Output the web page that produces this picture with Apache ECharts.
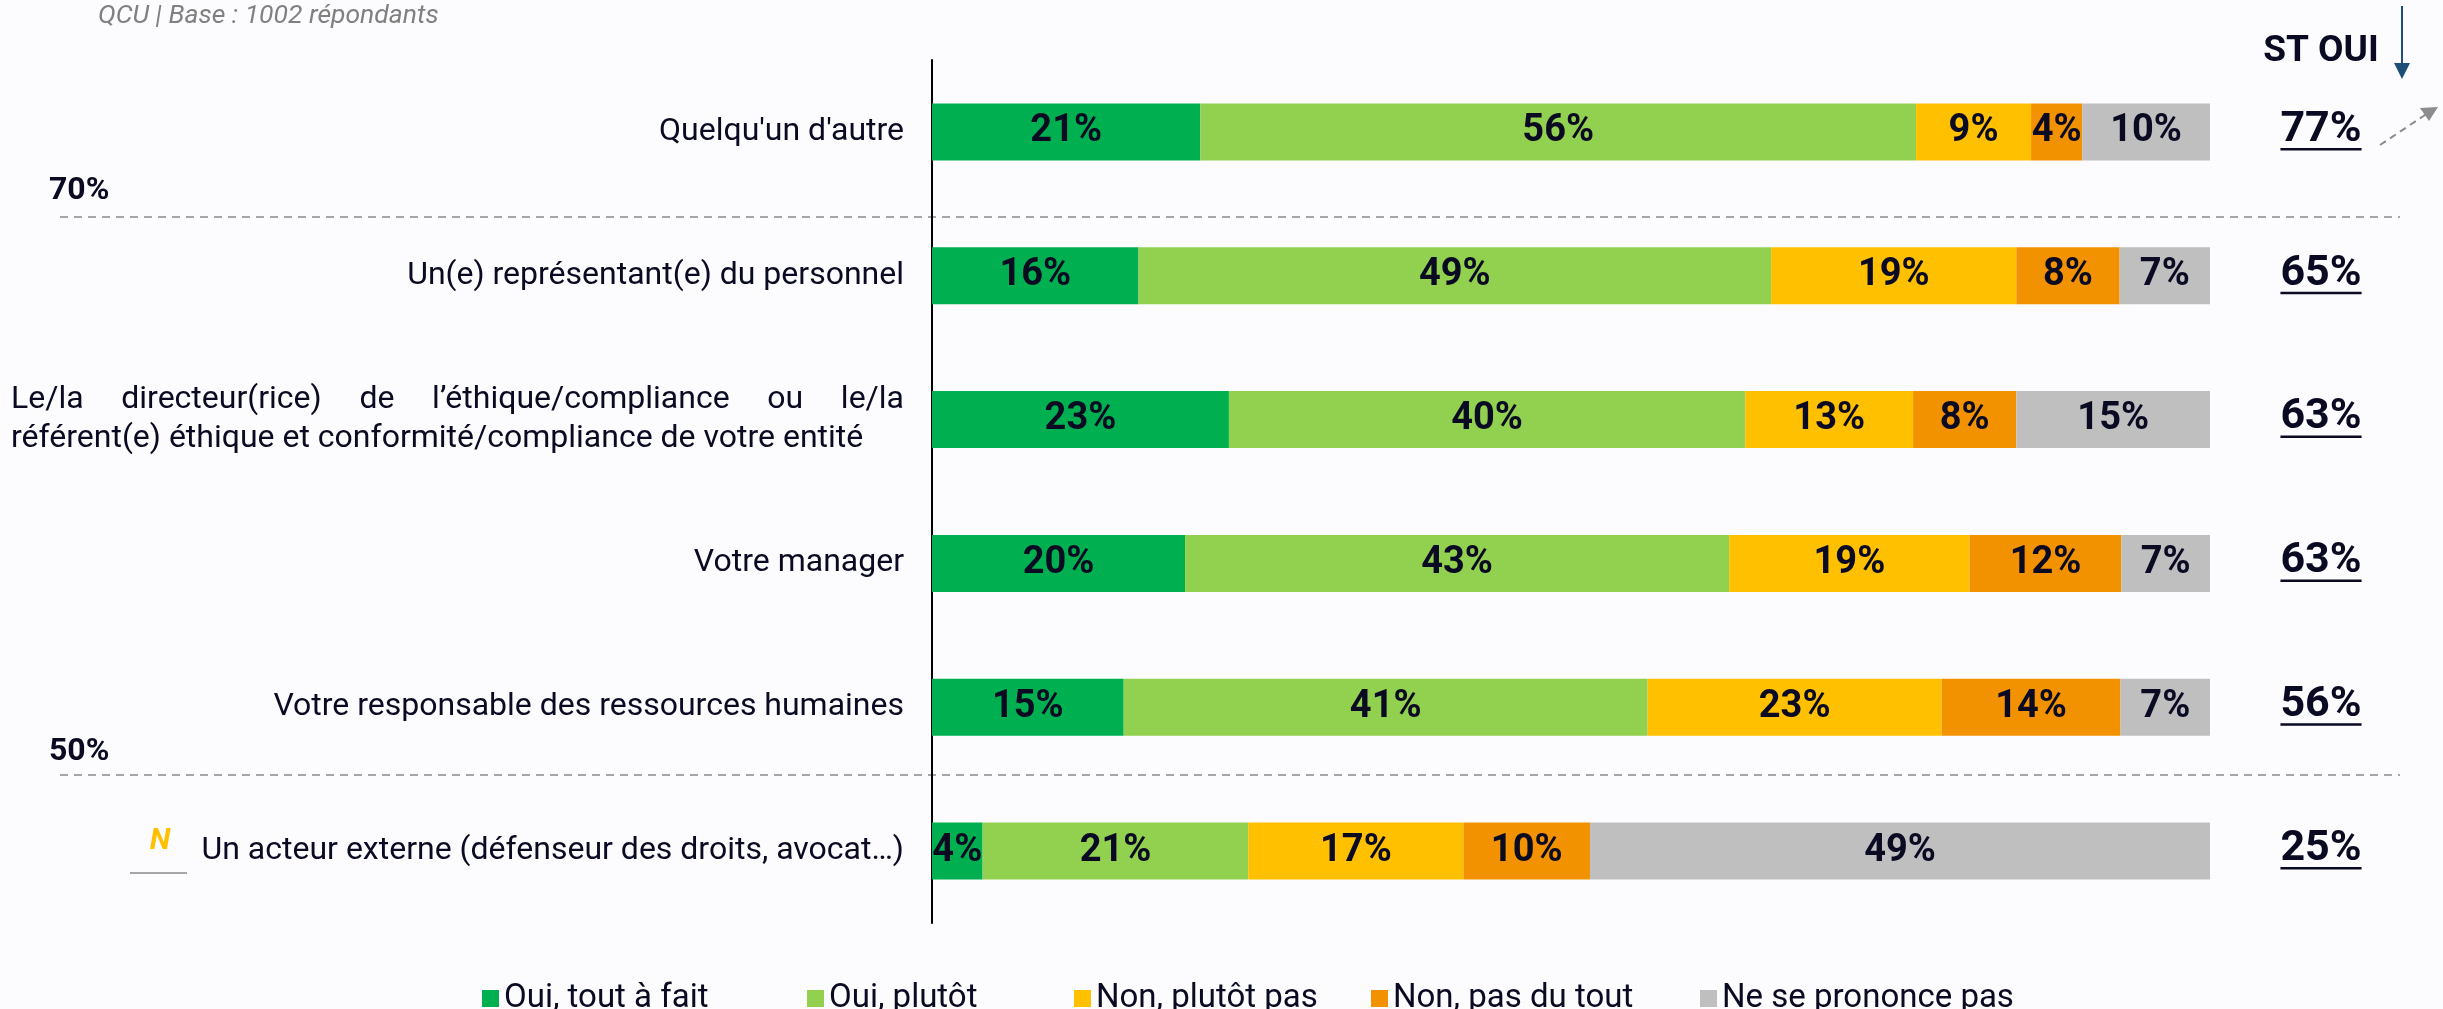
<!DOCTYPE html>
<html>
<head>
<meta charset="utf-8">
<script src="https://cdn.jsdelivr.net/npm/echarts@6/dist/echarts.min.js"></script>
<style>
html, body { margin: 0; padding: 0; background: #fcfcfe; }
#chart { width: 2443px; height: 1009px; }
</style>
</head>
<body>
<div id="chart"></div>
<script>
// données
var categories = [
    "Quelqu'un d'autre",
    "Un(e) représentant(e) du personnel",
    "Le/la directeur(rice) de l’éthique/compliance ou le/la\nréférent(e) éthique et conformité/compliance de votre entité",
    "Votre manager",
    "Votre responsable des ressources humaines",
    "Un acteur externe (défenseur des droits, avocat…)"
];
var seriesNames = ['Oui, tout à fait', 'Oui, plutôt', 'Non, plutôt pas', 'Non, pas du tout', 'Ne se prononce pas'];
var ouiToutAFait = [21, 16, 23, 20, 15, 4];
var ouiPlutot = [56, 49, 40, 43, 41, 21];
var nonPlutotPas = [9, 19, 13, 19, 23, 17];
var nonPasDuTout = [4, 8, 8, 12, 14, 10];
var nsp = [10, 7, 15, 7, 7, 49];
var stOui = [77, 65, 63, 63, 56, 25];
var seuils = ['70%', '50%'];
var colors = ['#00B050', '#92D050', '#FFC000', '#F39200', '#BFBFBF'];

var TXT = '#0a0a23';
var FONT = 'Roboto';
var LABEL_SIZE = 32;
var JUST_W = 893;   // largeur de la ligne justifiée
var ST_X = 2321;
var legendLeft = [477, 802, 1069, 1366, 1695];

var allRows = [ouiToutAFait, ouiPlutot, nonPlutotPas, nonPasDuTout, nsp];
// total par ligne (les % arrondis ne font pas toujours 100)
var rowSum = categories.map(function (c, i) {
    return allRows.reduce(function (s, arr) { return s + arr[i]; }, 0);
});

var ctx = document.createElement('canvas').getContext('2d');
function textW(t, font) {
    ctx.font = font;
    return ctx.measureText(t).width;
}

// libellé justifié sur deux lignes
var labelFont = LABEL_SIZE + 'px ' + FONT;
var justGap = 10;
categories.forEach(function (c) {
    var lines = c.split('\n');
    if (lines.length > 1) {
        var words = lines[0].split(' ');
        var used = 0;
        words.forEach(function (w) { used += textW(w, labelFont); });
        justGap = (JUST_W - used) / (words.length - 1);
    }
});

function yLabel(value) {
    var lines = value.split('\n');
    if (lines.length < 2) return '{t|' + value + '}';
    var first = lines[0].split(' ').map(function (w) { return '{t|' + w + '}'; }).join('{g| }');
    return first + '\n{t|' + lines[1] + '}';
}

var myChart = echarts.init(document.getElementById('chart'));

var series = allRows.map(function (arr, k) {
    return {
        name: seriesNames[k],
        type: 'bar',
        stack: 'total',
        barWidth: 57,
        itemStyle: { color: colors[k] },
        label: {
            show: true,
            position: 'inside',
            color: TXT,
            fontFamily: FONT,
            fontWeight: 'bold',
            fontSize: 38,
            formatter: function (p) { return arr[p.dataIndex] + '%'; }
        },
        data: arr.map(function (v, i) { return v / rowSum[i] * 100; })
    };
});

series.push({
    type: 'custom',
    silent: true,
    z: 5,
    encode: { x: 0, y: 1 },
    data: stOui.map(function (v, i) { return [0, i, v]; }),
    renderItem: function (params, api) {
        var y = api.coord([0, api.value(1)])[1];
        var txt = api.value(2) + '%';
        var w = textW(txt, 'bold 43px ' + FONT);
        return {
            type: 'group',
            children: [
                {
                    type: 'text',
                    style: {
                        text: txt, x: ST_X, y: y - 2,
                        align: 'center', verticalAlign: 'middle',
                        fontFamily: FONT, fontWeight: 'bold', fontSize: 43, fill: TXT
                    }
                },
                {
                    type: 'rect',
                    shape: { x: ST_X - w / 2, y: y + 16, width: w, height: 2.5 },
                    style: { fill: TXT }
                }
            ]
        };
    }
});

var legends = seriesNames.map(function (n, k) {
    return {
        data: [n],
        left: legendLeft[k],
        top: 977,
        itemWidth: 17,
        itemHeight: 17,
        icon: 'rect',
        textStyle: { color: TXT, fontFamily: FONT, fontSize: 33 }
    };
});

myChart.setOption({
    backgroundColor: '#fcfcfe',
    animation: false,
    grid: { left: 932, right: 233, top: 60, bottom: 86 },
    legend: legends,
    xAxis: { type: 'value', min: 0, max: 100, show: false },
    yAxis: {
        type: 'category',
        inverse: true,
        data: categories,
        axisLine: { show: true, lineStyle: { color: '#000', width: 2 } },
        axisTick: { show: false },
        splitLine: { show: false },
        axisLabel: {
            margin: 28,
            formatter: yLabel,
            rich: {
                t: { fontFamily: FONT, fontSize: LABEL_SIZE, color: TXT, lineHeight: 39, align: 'left' },
                g: { width: justGap, fontSize: LABEL_SIZE, lineHeight: 39, align: 'left' }
            }
        }
    },
    graphic: [
        {
            type: 'text', left: 98, top: 3,
            style: { text: 'QCU | Base : 1002 répondants', fontFamily: FONT, fontStyle: 'italic', fontSize: 26.5, fill: '#808080' }
        },
        {
            type: 'text', x: 49, y: 191,
            style: { text: seuils[0], verticalAlign: 'middle', fontFamily: FONT, fontWeight: 'bold', fontSize: 32, fill: TXT }
        },
        {
            type: 'line', shape: { x1: 60, y1: 217, x2: 2400, y2: 217 },
            style: { stroke: '#a6a6a6', lineWidth: 2, lineDash: [8, 6] }
        },
        {
            type: 'text', x: 49, y: 752,
            style: { text: seuils[1], verticalAlign: 'middle', fontFamily: FONT, fontWeight: 'bold', fontSize: 32, fill: TXT }
        },
        {
            type: 'line', shape: { x1: 60, y1: 775, x2: 2400, y2: 775 },
            style: { stroke: '#a6a6a6', lineWidth: 2, lineDash: [8, 6] }
        },
        {
            type: 'text', x: ST_X, y: 52,
            style: { text: 'ST OUI', align: 'center', verticalAlign: 'middle', fontFamily: FONT, fontWeight: 'bold', fontSize: 37, fill: TXT }
        },
        // flèche bleue
        {
            type: 'line', shape: { x1: 2402, y1: 6, x2: 2402, y2: 66 },
            style: { stroke: '#1F4E79', lineWidth: 2 }
        },
        {
            type: 'polygon', shape: { points: [[2394, 63], [2410, 63], [2402, 79]] },
            style: { fill: '#1F4E79' }
        },
        // flèche grise pointillée
        {
            type: 'line', shape: { x1: 2380, y1: 145, x2: 2428, y2: 113 },
            style: { stroke: '#8c8c8c', lineWidth: 2, lineDash: [7, 5] }
        },
        {
            type: 'polygon', shape: { points: [[2438, 107], [2420, 108], [2429, 121]] },
            style: { fill: '#8c8c8c' }
        },
        // marqueur N
        {
            type: 'text', x: 160, y: 841,
            style: { text: 'N', align: 'center', verticalAlign: 'middle', fontFamily: FONT, fontStyle: 'italic', fontWeight: 'bold', fontSize: 30, fill: '#FFC000' }
        },
        {
            type: 'line', shape: { x1: 130, y1: 873, x2: 187, y2: 873 },
            style: { stroke: '#a6a6a6', lineWidth: 2 }
        }
    ],
    series: series
});
</script>
</body>
</html>
